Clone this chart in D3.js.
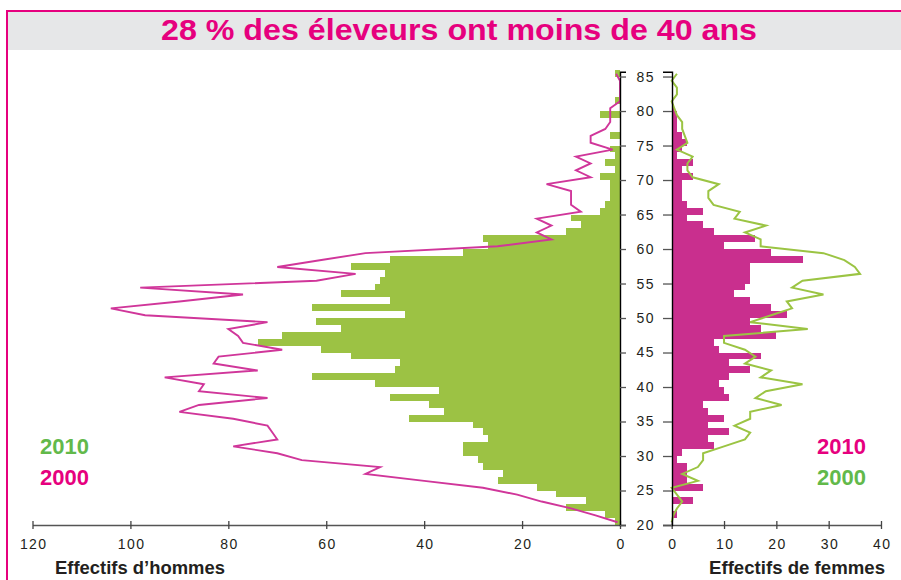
<!DOCTYPE html>
<html>
<head>
<meta charset="utf-8">
<script src="https://d3js.org/d3.v7.min.js"></script>
<style>
body { margin: 0; background: #fff; }
svg { display: block; font-family: "Liberation Sans", Arial, sans-serif; }
.axis text { font-size: 14px; fill: #231f20; letter-spacing: 1.4px; }
</style>
<title>28 % des éleveurs ont moins de 40 ans</title>
</head>
<body>
<script>
// one value per year of age, 20 to 85
var ages = [20, 21, 22, 23, 24, 25, 26, 27, 28, 29,
            30, 31, 32, 33, 34, 35, 36, 37, 38, 39,
            40, 41, 42, 43, 44, 45, 46, 47, 48, 49,
            50, 51, 52, 53, 54, 55, 56, 57, 58, 59,
            60, 61, 62, 63, 64, 65, 66, 67, 68, 69,
            70, 71, 72, 73, 74, 75, 76, 77, 78, 79,
            80, 81, 82, 83, 84, 85];

var men2010 = [1, 3, 11, 7, 13, 17, 25, 24, 28, 29,
               32, 32, 27, 28, 30, 43, 36, 39, 47, 37,
               50, 63, 46, 45, 55, 61, 74, 69, 57, 62,
               44, 63, 47, 57, 50, 49, 48, 55, 47, 32,
               27, 28, 11, 8, 10, 4, 3, 2, 2, 2,
               4, 1, 3, 1, 2, 0, 2, 0, 0, 4,
               0, 1, 0, 0, 0, 1];

var men2000 = [0.5, 5, 10, 16, 21, 28, 40, 52, 49, 65,
               70, 79, 70, 71, 72, 79, 90, 86, 72, 86,
               85, 93, 74, 83, 82, 69, 77, 78, 80, 72,
               97, 104, 90, 77, 98, 62, 54, 70, 61, 52,
               25, 14, 17, 14, 17, 8, 10, 10, 10, 15,
               6, 9, 6, 9, 1.5, 6, 6, 3, 2, 2,
               2, 0, 0, 0, 0, 0.8];

var women2010 = [0, 1, 0, 4, 0, 6, 3, 3, 3, 1,
                 2, 8, 7, 11, 7, 10, 7, 6, 11, 10,
                 9, 11, 15, 11, 17, 9, 8, 20, 17, 15,
                 22, 19, 15, 12, 14, 15, 15, 15, 25, 19,
                 10, 16, 8, 6, 3, 6, 3, 2, 2, 2,
                 4, 2, 4, 1, 2, 3, 2, 1, 1, 1,
                 0.5, 0.3, 0, 0, 0, 0];

var women2000 = [0, 0.3, 1, 2, 1, 0, 5, 2, 5, 6,
                 6, 10, 14, 15, 12, 15, 15, 21, 16, 18,
                 25, 17, 19, 14, 16, 14, 10, 10, 26, 15,
                 19, 23, 22, 29, 23, 25, 36, 35, 33, 29,
                 17, 17, 14, 18, 12, 13, 8, 7, 7, 9,
                 4, 3, 3, 4, 1, 3, 2.5, 2, 2, 1,
                 0.5, 0, 1, 1, 0, 1];

var menTicks = [0, 20, 40, 60, 80, 100, 120];
var womenTicks = [0, 10, 20, 30, 40];
var ageTicks = [20, 25, 30, 35, 40, 45, 50, 55, 60, 65, 70, 75, 80, 85];

var title = "28 % des éleveurs ont moins de 40 ans";

var magenta = "#e6007e",
    barPink = "#c92f8e",
    linePink = "#d0369a",
    barGreen = "#9cc244",
    lineGreen = "#9bc443",
    textGreen = "#62b94a";

var svg = d3.select("body").append("svg")
    .attr("width", 901)
    .attr("height", 580);

// title band and pink frame
svg.append("rect")
    .attr("x", 8).attr("y", 12)
    .attr("width", 893).attr("height", 38)
    .attr("fill", "#e6e7e8");
svg.append("line")
    .attr("x1", 6).attr("x2", 901).attr("y1", 11).attr("y2", 11)
    .attr("stroke", magenta).attr("stroke-width", 2);
svg.append("line")
    .attr("x1", 7).attr("x2", 7).attr("y1", 10).attr("y2", 580)
    .attr("stroke", magenta).attr("stroke-width", 2);
svg.append("text")
    .attr("x", 161).attr("y", 40)
    .attr("textLength", 596)
    .attr("lengthAdjust", "spacingAndGlyphs")
    .style("font-size", "30px")
    .style("font-weight", "bold")
    .attr("fill", magenta)
    .text(title);

var y = d3.scaleLinear().domain([20, 85.7]).range([525, 71.7]);
var xMen = d3.scaleLinear().domain([0, 120]).range([620, 32.5]);
var xWomen = d3.scaleLinear().domain([0, 40]).range([671.7, 881]);

var rows = ages.map(function(a, i) {
  return {age: a, m10: men2010[i], m00: men2000[i], w10: women2010[i], w00: women2000[i]};
});

// bars 2010
svg.append("g").selectAll("rect")
    .data(rows)
  .enter().append("rect")
    .attr("x", function(d) { return xMen(d.m10); })
    .attr("y", function(d) { return y(d.age + 1); })
    .attr("width", function(d) { return xMen(0) - xMen(d.m10); })
    .attr("height", function(d) { return y(d.age) - y(d.age + 1); })
    .attr("fill", barGreen)
    .attr("shape-rendering", "crispEdges");

svg.append("g").selectAll("rect")
    .data(rows)
  .enter().append("rect")
    .attr("x", xWomen(0))
    .attr("y", function(d) { return y(d.age + 1); })
    .attr("width", function(d) { return xWomen(d.w10) - xWomen(0); })
    .attr("height", function(d) { return y(d.age) - y(d.age + 1); })
    .attr("fill", barPink)
    .attr("shape-rendering", "crispEdges");

// lines 2000
var menLine = d3.line()
    .x(function(d) { return xMen(d.m00); })
    .y(function(d) { return y(d.age + 0.4); });
var womenLine = d3.line()
    .x(function(d) { return xWomen(d.w00); })
    .y(function(d) { return y(d.age + 0.4); });

svg.append("path")
    .datum(rows)
    .attr("d", menLine)
    .attr("fill", "none")
    .attr("stroke", linePink)
    .attr("stroke-width", 1.9);

svg.append("path")
    .datum(rows)
    .attr("d", womenLine)
    .attr("fill", "none")
    .attr("stroke", lineGreen)
    .attr("stroke-width", 2);

// bottom axes
var gMen = svg.append("g")
    .attr("class", "axis")
    .attr("transform", "translate(0,525)")
    .call(d3.axisBottom(xMen).tickValues(menTicks).tickSizeOuter(0).tickSizeInner(4).tickPadding(10));

var gWomen = svg.append("g")
    .attr("class", "axis")
    .attr("transform", "translate(0,525)")
    .call(d3.axisBottom(xWomen).tickValues(womenTicks).tickSizeOuter(0).tickSizeInner(4).tickPadding(10));

[gMen, gWomen].forEach(function(g) {
  g.select(".domain").attr("stroke", "#555").attr("stroke-width", 1.5);
  g.selectAll(".tick line").attr("y1", -4).attr("stroke", "#444").attr("stroke-width", 1.3);
  g.selectAll(".tick text").attr("x", 0.7);
});

// age axes
var gAgeMen = svg.append("g")
    .attr("class", "axis")
    .attr("transform", "translate(620,0)")
    .call(d3.axisRight(y).tickValues(ageTicks).tickSizeOuter(0).tickSize(6).tickFormat(""));

var gAgeWomen = svg.append("g")
    .attr("class", "axis")
    .attr("transform", "translate(672,0)")
    .call(d3.axisLeft(y).tickValues(ageTicks).tickSizeOuter(0).tickSize(9).tickPadding(17));

[gAgeMen, gAgeWomen].forEach(function(g) {
  g.select(".domain").attr("stroke", "#000").attr("stroke-width", 1.4);
  g.selectAll(".tick line").attr("stroke", "#555").attr("stroke-width", 1.3);
});
gAgeWomen.selectAll(".tick text")
    .attr("x", -26.3)
    .attr("text-anchor", "middle");

// axis titles
svg.append("text")
    .attr("x", 55).attr("y", 574)
    .attr("textLength", 170)
    .attr("lengthAdjust", "spacingAndGlyphs")
    .style("font-size", "18px").style("font-weight", "bold")
    .attr("fill", "#231f20")
    .text("Effectifs d’hommes");
svg.append("text")
    .attr("x", 709).attr("y", 574)
    .attr("textLength", 176)
    .attr("lengthAdjust", "spacingAndGlyphs")
    .style("font-size", "18px").style("font-weight", "bold")
    .attr("fill", "#231f20")
    .text("Effectifs de femmes");

// legends
var legends = [
  {x: 40, y: 454, label: "2010", color: textGreen, anchor: "start"},
  {x: 40, y: 485, label: "2000", color: magenta, anchor: "start"},
  {x: 866, y: 454, label: "2010", color: magenta, anchor: "end"},
  {x: 866, y: 485, label: "2000", color: textGreen, anchor: "end"}
];
svg.append("g").selectAll("text")
    .data(legends)
  .enter().append("text")
    .attr("x", function(d) { return d.x; })
    .attr("y", function(d) { return d.y; })
    .attr("text-anchor", function(d) { return d.anchor; })
    .attr("fill", function(d) { return d.color; })
    .style("font-size", "22px")
    .style("font-weight", "bold")
    .text(function(d) { return d.label; });
</script>
</body>
</html>
